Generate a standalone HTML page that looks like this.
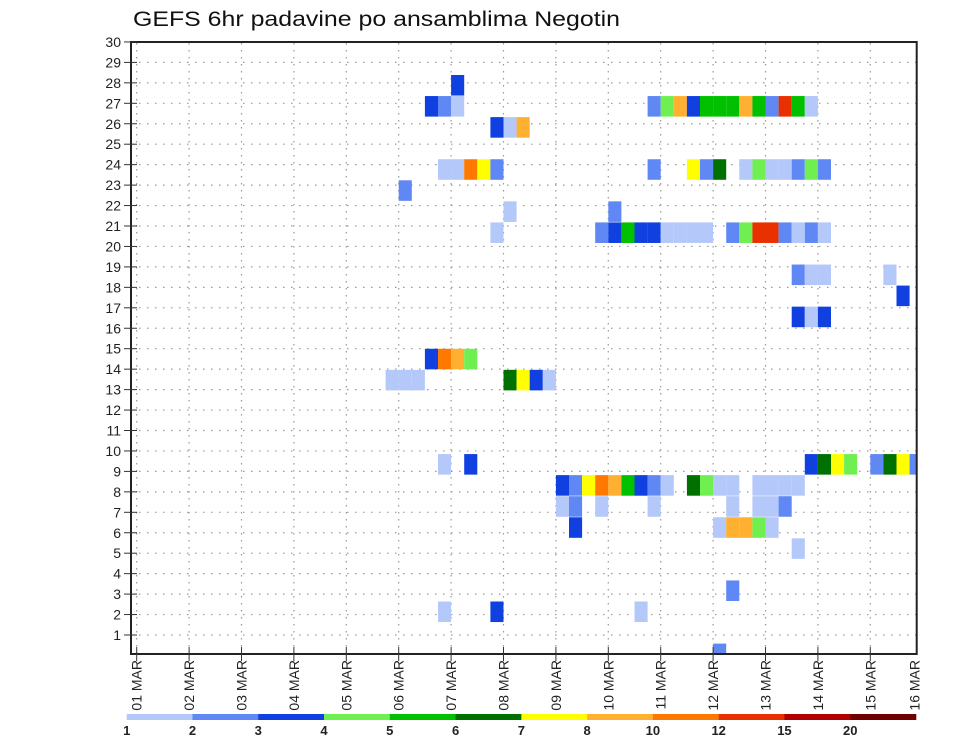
<!DOCTYPE html>
<html><head><meta charset="utf-8"><style>
html,body{margin:0;padding:0;background:#fff;}
svg{display:block;font-family:"Liberation Sans","DejaVu Sans",sans-serif;}
</style></head><body>
<svg id="chart" width="960" height="742" viewBox="0 0 960 742" xmlns="http://www.w3.org/2000/svg">
<text x="133" y="26" font-size="21" textLength="487" lengthAdjust="spacingAndGlyphs" fill="#111">GEFS 6hr padavine po ansamblima Negotin</text>
<g id="grid"></g>
<g id="cells"></g>
<rect x="131" y="42" width="785.7" height="612" fill="none" stroke="#222" stroke-width="2"/>
<g id="axes"></g>
<g id="legend"></g>
</svg>
<script>
// ---- data ----
const dayLabels = ["01 MAR","02 MAR","03 MAR","04 MAR","05 MAR","06 MAR","07 MAR","08 MAR","09 MAR","10 MAR","11 MAR","12 MAR","13 MAR","14 MAR","15 MAR","16 MAR"];
const memberTicks = [1,2,3,4,5,6,7,8,9,10,11,12,13,14,15,16,17,18,19,20,21,22,23,24,25,26,27,28,29,30];
const levelBounds = [1,2,3,4,5,6,7,8,10,12,15,20];
const levelColors = ["#b4c8fa","#6088f5","#1040e0","#70f050","#00c000","#007000","#ffff00","#ffb030","#ff7800","#e83000","#b00000","#700000"];
// per member row: 6-hour steps from 01 MAR 00z and precipitation (mm)
const rowMember = [28,27,26,24,23,22,21,19,18,17,15,14,10,9,8,7,6,4,3,1];
const rowSteps = [
 [24],
 [22,23,24,39,40,41,42,43,44,45,46,47,48,49,50,51],
 [27,28,29],
 [23,24,25,26,27,39,42,43,44,46,47,48,49,50,51,52],
 [20],
 [28,36],
 [27,35,36,37,38,39,40,41,42,43,45,46,47,48,49,50,51,52],
 [50,51,52,57],
 [58],
 [50,51,52],
 [22,23,24,25],
 [19,20,21,28,29,30,31],
 [23,25,51,52,53,54,56,57,58,59],
 [32,33,34,35,36,37,38,39,40,42,43,44,45,47,48,49,50],
 [32,33,35,39,45,47,48,49],
 [33,44,45,46,47,48],
 [50],
 [45],
 [23,27,38],
 [44]
];
const rowValues = [
 [3.5],
 [3.5,2.5,1.5,2.5,4.5,8.5,3.5,5.5,5.5,5.5,8.5,5.5,2.5,13,5.5,1.5],
 [3.5,1.5,8.5],
 [1.5,1.5,11,7.5,2.5,2.5,7.5,2.5,6.5,1.5,4.5,1.5,1.5,2.5,4.5,2.5],
 [2.5],
 [1.5,2.5],
 [1.5,2.5,3.5,5.5,3.5,3.5,1.5,1.5,1.5,1.5,2.5,4.5,13,13,2.5,1.5,2.5,1.5],
 [2.5,1.5,1.5,1.5],
 [3.5],
 [3.5,1.5,3.5],
 [3.5,11,8.5,4.5],
 [1.5,1.5,1.5,6.5,7.5,3.5,1.5],
 [1.5,3.5,3.5,6.5,7.5,4.5,2.5,6.5,7.5,2.5],
 [3.5,2.5,7.5,11,8.5,5.5,3.5,2.5,1.5,6.5,4.5,1.5,1.5,1.5,1.5,1.5,1.5],
 [1.5,2.5,1.5,1.5,1.5,1.5,1.5,2.5],
 [3.5,1.5,8.5,8.5,4.5,1.5],
 [1.5],
 [2.5],
 [1.5,3.5,1.5],
 [2.5]
];

// ---- axis functions ----
const NS="http://www.w3.org/2000/svg";
const X0=136.7, DAY=52.4, STEP=DAY/4;
const xDay = d => X0 + d*DAY;
const xStep = s => X0 + s*STEP;
const yTick = m => 635 - (m-1)*20.45;
const CELL_H = 21.06;
const yCell = m => 43.4 + (30-m)*CELL_H;
const colorFor = v => { let i=0; for(let j=0;j<levelBounds.length;j++){ if(v>=levelBounds[j]) i=j; } return levelColors[i]; };
function mk(tag, attrs, parent){ const e=document.createElementNS(NS,tag); for(const k in attrs) e.setAttribute(k,attrs[k]); parent.appendChild(e); return e; }

const grid=document.getElementById('grid'), cells=document.getElementById('cells'), axes=document.getElementById('axes'), legend=document.getElementById('legend');

// gridlines
memberTicks.forEach(m=>{
  const l=mk('line',{x1:131,x2:916,y1:yTick(m),y2:yTick(m),stroke:'#999','stroke-width':1.2,'stroke-dasharray':'1.5 6.5'},grid);
  
  
});
dayLabels.forEach((d,i)=>{
  if(xDay(i)>915) return;
  const l=mk('line',{x1:xDay(i),x2:xDay(i),y1:43,y2:654,stroke:'#999','stroke-width':1.2,'stroke-dasharray':'1.5 5.5'},grid);
  
  
});

// cells
const clip=mk('clipPath',{id:'plotclip'},mk('defs',{},document.getElementById('chart')));
mk('rect',{x:131,y:42,width:785.7,height:612},clip);
cells.setAttribute('clip-path','url(#plotclip)');
rowMember.forEach((m,ri)=>{
  rowSteps[ri].forEach((s,j)=>{
    const r=mk('rect',{x:xStep(s),y:yCell(m)-CELL_H/2,width:STEP,height:CELL_H-0.5,fill:colorFor(rowValues[ri][j])},cells);
    
    
  });
});

// y axis
memberTicks.forEach(m=>{
  const t=mk('line',{x1:124,x2:137,y1:yTick(m),y2:yTick(m),stroke:'#333','stroke-width':1},axes);
  
  
  const tx=mk('text',{x:121,y:yTick(m)+5,'font-size':14,'text-anchor':'end',fill:'#222'},axes);
  tx.textContent=m;
  
  
});
// x axis
dayLabels.forEach((d,i)=>{
  const x=Math.min(xDay(i),914.5);
  if(xDay(i)<=915){
    const t=mk('line',{x1:x,x2:x,y1:647,y2:661,stroke:'#333','stroke-width':1},axes);
    
    
  }
  const tx=mk('text',{x:0,y:0,'font-size':14,'text-anchor':'end',fill:'#222',transform:`translate(${x+5},660) rotate(-90)`},axes);
  tx.textContent=d;
  
  
});

// colorbar
const CB0=126.7, CBW=(916-126.7)/levelColors.length;
levelColors.forEach((c,i)=>{
  const r=mk('rect',{x:CB0+i*CBW,y:714,width:CBW+0.3,height:6,fill:c},legend);
  
  
});
levelBounds.forEach((b,i)=>{
  const t=mk('text',{x:CB0+i*CBW,y:735,'font-size':13,'font-weight':'bold','text-anchor':'middle',fill:'#222'},legend);
  t.textContent=b;
  
  
});
</script>
</body></html>
